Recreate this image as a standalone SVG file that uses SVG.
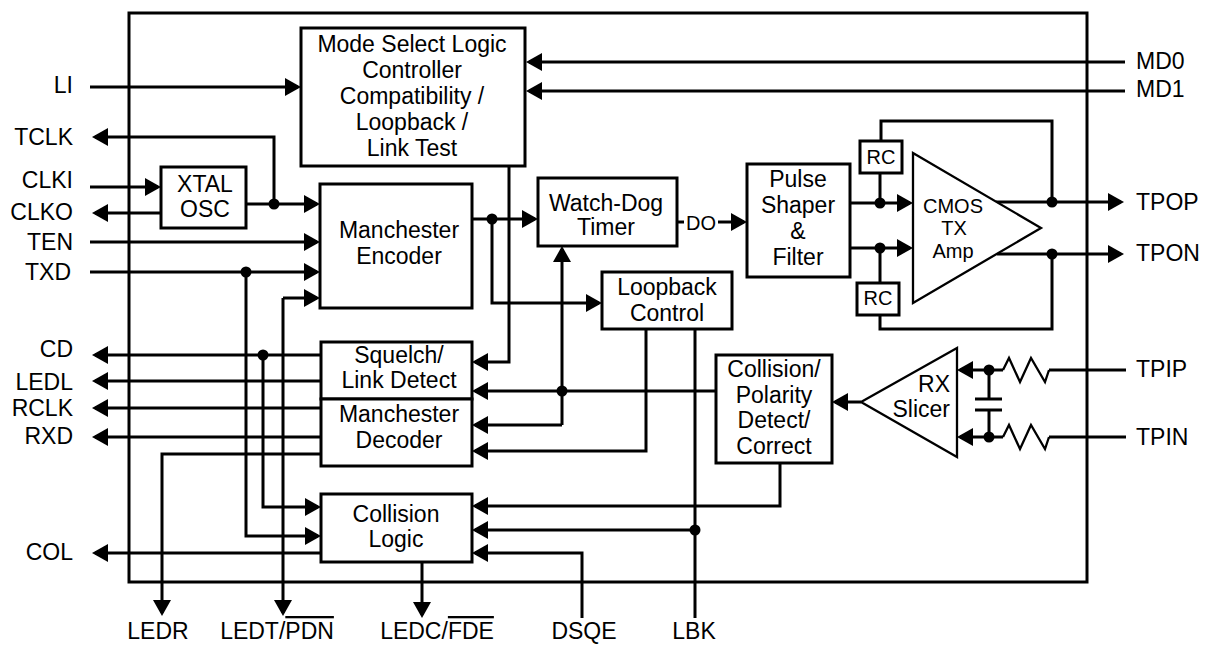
<svg xmlns="http://www.w3.org/2000/svg" width="1210" height="645" viewBox="0 0 1210 645">
<style>
text{font-family:"Liberation Sans",Arial,sans-serif;font-size:23px;fill:#000}
.s{font-size:20px}
.m{text-anchor:middle}
.e{text-anchor:end}
.box{fill:#fff;stroke:#000;stroke-width:3}
.tri{fill:#fff;stroke:#000;stroke-width:2.3}
.w{fill:none;stroke:#000;stroke-width:3}
.z{fill:none;stroke:#000;stroke-width:2.3}
.a{marker-end:url(#ah)}
.dot{fill:#000}
</style>
<defs>
<marker id="ah" viewBox="0 0 16 18" refX="13" refY="9" markerWidth="16" markerHeight="18" markerUnits="userSpaceOnUse" orient="auto">
<path d="M0,0 L16,9 L0,18 z" fill="#000"/>
</marker>
</defs>
<rect id="outline" x="129" y="13" width="958" height="569" fill="none" stroke="#000" stroke-width="3"/>
<g id="connectors">
<path class="w a" d="M90,87 H298"/>
<path class="w a" d="M1125,62 H529"/>
<path class="w a" d="M1125,91 H529"/>
<path class="w a" d="M274,204 V137 H95"/>
<path class="w a" d="M90,187 H158"/>
<path class="w a" d="M161,213 H95"/>
<path class="w a" d="M246,204 H317"/>
<path class="w a" d="M90,242 H317"/>
<path class="w a" d="M90,272 H317"/>
<path class="w a" d="M246,272 V536 H318"/>
<path class="w a" d="M283,298 H317"/>
<path class="w a" d="M283,298 V613"/>
<path class="w a" d="M321,355 H95"/>
<path class="w a" d="M263,355 V507 H318"/>
<path class="w a" d="M321,381 H95"/>
<path class="w a" d="M321,408 H95"/>
<path class="w a" d="M321,437 H95"/>
<path class="w a" d="M321,454 H162 V613"/>
<path class="w a" d="M321,553 H95"/>
<path class="w a" d="M472,219 H535"/>
<path class="w a" d="M492,219 V303 H599"/>
<path class="w a" d="M509,166 V362 H475"/>
<path class="w a" d="M716,391 H475"/>
<path class="w a" d="M562,425 V249"/>
<path class="w a" d="M562,425 H475"/>
<path class="w a" d="M646,329 V451 H475"/>
<path class="w" d="M695,329 V618"/>
<path class="w a" d="M695,530 H475"/>
<path class="w a" d="M780,463 V506 H475"/>
<path class="w a" d="M582,618 V553 H475"/>
<path class="w a" d="M422,562 V615"/>
<path class="w" d="M677,222 H684"/>
<path class="w a" d="M718,222 H744"/>
<path class="w a" d="M850,203 H910"/>
<path class="w a" d="M850,248 H910"/>
<path class="w a" d="M996,202 H1121"/>
<path class="w a" d="M997,254 H1121"/>
<path class="w" d="M880,203 V173 M881,141 V121 H1052 V202"/>
<path class="w" d="M880,248 V315 M880,315 V329 H1052 V254"/>
<path class="w a" d="M861,402 H835"/>
<path class="w" d="M1126,370 H1049"/>
<path class="z" d="M1049,370 L1045,382 L1031,358 L1020,382 L1009,358 L1003,370"/>
<path class="w a" d="M1003,370 H960"/>
<path class="w" d="M1126,437 H1049"/>
<path class="z" d="M1049,437 L1045,449 L1031,425 L1020,449 L1009,425 L1003,437"/>
<path class="w a" d="M1003,437 H960"/>
<path class="w" d="M989,370 V399 M975,399 H1002 M975,410 H1002 M989,410 V437"/>
<circle class="dot" cx="274" cy="204" r="5.5"/>
<circle class="dot" cx="246" cy="272" r="5.5"/>
<circle class="dot" cx="263" cy="355" r="5.5"/>
<circle class="dot" cx="492" cy="219" r="5.5"/>
<circle class="dot" cx="562" cy="391" r="5.5"/>
<circle class="dot" cx="695" cy="530" r="5.5"/>
<circle class="dot" cx="880" cy="203" r="5.5"/>
<circle class="dot" cx="880" cy="248" r="5.5"/>
<circle class="dot" cx="1052" cy="202" r="5.5"/>
<circle class="dot" cx="1052" cy="254" r="5.5"/>
<circle class="dot" cx="989" cy="370" r="5.5"/>
<circle class="dot" cx="989" cy="437" r="5.5"/>
</g>
<g id="mode-select">
<rect class="box" x="301" y="28" width="224" height="138"/>
<text class="m" x="412" y="52">Mode Select Logic</text>
<text class="m" x="412" y="78">Controller</text>
<text class="m" x="412" y="104">Compatibility /</text>
<text class="m" x="412" y="130">Loopback /</text>
<text class="m" x="412" y="156">Link Test</text>
</g>
<g id="xtal">
<rect class="box" x="161" y="167" width="85" height="61"/>
<text class="m" x="205" y="192">XTAL</text>
<text class="m" x="205" y="217">OSC</text>
</g>
<g id="encoder">
<rect class="box" x="320" y="184" width="152" height="124"/>
<text class="m" x="399" y="238">Manchester</text>
<text class="m" x="399" y="264">Encoder</text>
</g>
<g id="watchdog">
<rect class="box" x="538" y="178" width="139" height="68"/>
<text class="m" x="606" y="211">Watch-Dog</text>
<text class="m" x="606" y="235">Timer</text>
</g>
<g id="do-label"><text class="s m" x="701" y="230">DO</text></g>
<g id="loopback">
<rect class="box" x="602" y="272" width="130" height="57"/>
<text class="m" x="667" y="295">Loopback</text>
<text class="m" x="667" y="321">Control</text>
</g>
<g id="pulse">
<rect class="box" x="747" y="164" width="103" height="113"/>
<text class="m" x="798" y="187">Pulse</text>
<text class="m" x="798" y="213">Shaper</text>
<text class="m" x="798" y="239">&amp;</text>
<text class="m" x="798" y="265">Filter</text>
</g>
<g id="rc-top">
<rect class="box" x="860" y="141" width="42" height="32"/>
<text class="s m" x="881" y="164">RC</text>
</g>
<g id="rc-bottom">
<rect class="box" x="857" y="283" width="42" height="32"/>
<text class="s m" x="878" y="305">RC</text>
</g>
<g id="tx-amp">
<polygon class="tri" points="913,153 1041,228 913,303"/>
<text class="s m" x="953" y="213">CMOS</text>
<text class="s m" x="954" y="235">TX</text>
<text class="s m" x="953" y="258">Amp</text>
</g>
<g id="squelch">
<rect class="box" x="321" y="342" width="151" height="57"/>
<text class="m" x="399" y="363">Squelch/</text>
<text class="m" x="399" y="388">Link Detect</text>
</g>
<g id="decoder">
<rect class="box" x="321" y="399" width="151" height="67"/>
<text class="m" x="399" y="422">Manchester</text>
<text class="m" x="399" y="448">Decoder</text>
</g>
<g id="collision-polarity">
<rect class="box" x="716" y="355" width="116" height="108"/>
<text class="m" x="774" y="377">Collision/</text>
<text class="m" x="774" y="403">Polarity</text>
<text class="m" x="774" y="428">Detect/</text>
<text class="m" x="774" y="454">Correct</text>
</g>
<g id="collision-logic">
<rect class="box" x="321" y="494" width="151" height="68"/>
<text class="m" x="396" y="522">Collision</text>
<text class="m" x="396" y="547">Logic</text>
</g>
<g id="rx-slicer">
<polygon class="tri" points="957,348 861,402 957,457"/>
<text class="e" x="950" y="392">RX</text>
<text class="e" x="950" y="417">Slicer</text>
</g>
<g id="pins-left">
<text class="e" x="73" y="93">LI</text>
<text class="e" x="73" y="145">TCLK</text>
<text class="e" x="73" y="188">CLKI</text>
<text class="e" x="73" y="220">CLKO</text>
<text class="e" x="73" y="250">TEN</text>
<text class="e" x="71" y="280">TXD</text>
<text class="e" x="73" y="357">CD</text>
<text class="e" x="73" y="390">LEDL</text>
<text class="e" x="73" y="416">RCLK</text>
<text class="e" x="73" y="444">RXD</text>
<text class="e" x="73" y="560">COL</text>
</g>
<g id="pins-right">
<text x="1136" y="69">MD0</text>
<text x="1136" y="97">MD1</text>
<text x="1136" y="210">TPOP</text>
<text x="1136" y="261">TPON</text>
<text x="1136" y="377">TPIP</text>
<text x="1136" y="445">TPIN</text>
</g>
<g id="pins-bottom">
<text class="m" x="158" y="639">LEDR</text>
<text class="m" x="277" y="639">LEDT/<tspan text-decoration="overline">PDN</tspan></text>
<text class="m" x="437" y="639">LEDC/<tspan text-decoration="overline">FDE</tspan></text>
<text class="m" x="584" y="639">DSQE</text>
<text class="m" x="694" y="639">LBK</text>
</g>
</svg>
